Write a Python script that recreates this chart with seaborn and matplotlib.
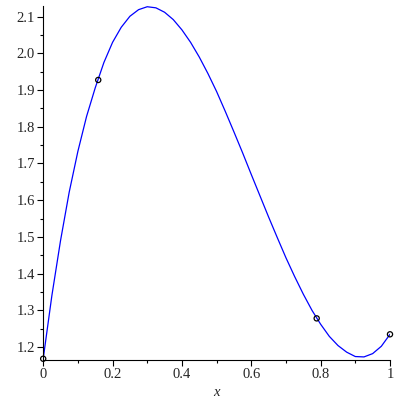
import numpy as np
import pandas as pd
import seaborn as sns
import matplotlib.pyplot as plt
from matplotlib.ticker import MultipleLocator, FormatStrFormatter

# curve values (x step 0.025)
curve_x = [0.0, 0.025, 0.05, 0.075, 0.1, 0.125, 0.15, 0.175, 0.2, 0.225,
           0.25, 0.275, 0.3, 0.325, 0.35, 0.375, 0.4, 0.425, 0.45, 0.475,
           0.5, 0.525, 0.55, 0.575, 0.6, 0.625, 0.65, 0.675, 0.7, 0.725,
           0.75, 0.775, 0.8, 0.825, 0.85, 0.875, 0.9, 0.925, 0.95, 0.975, 1.0]
curve_y = [1.168, 1.340, 1.490, 1.622, 1.733, 1.828, 1.906, 1.975, 2.030, 2.071,
           2.101, 2.119, 2.127, 2.124, 2.112, 2.092, 2.064, 2.030, 1.990, 1.945,
           1.896, 1.842, 1.786, 1.729, 1.670, 1.612, 1.554, 1.498, 1.443, 1.392,
           1.344, 1.300, 1.262, 1.229, 1.204, 1.186, 1.174, 1.173, 1.182, 1.202, 1.2346]

# data points (open circles)
pts_x = [0.0, 0.1587, 0.7886, 1.0]
pts_y = [1.168, 1.9275, 1.278, 1.2346]

curve = pd.DataFrame({"x": curve_x, "y": curve_y})
pts = pd.DataFrame({"x": pts_x, "y": pts_y})

sns.set_style("ticks")
plt.rcParams['font.family'] = ['Liberation Serif', 'DejaVu Serif']
plt.rcParams['font.size'] = 10.5

fig = plt.figure(figsize=(4, 4), dpi=100)
ax = fig.add_axes([0.108, 0.1, 0.867, 0.885])

sns.lineplot(data=curve, x="x", y="y", ax=ax, color=(0, 0, 1), linewidth=0.9)
sns.scatterplot(data=pts, x="x", y="y", ax=ax, marker="o", s=14,
                facecolor="none", edgecolor="black", linewidth=0.9,
                zorder=3, clip_on=False)

ax.set_xlim(0, 1)
ax.set_ylim(1.1646, 2.129)

ax.xaxis.set_major_locator(MultipleLocator(0.2))
ax.xaxis.set_minor_locator(MultipleLocator(0.1))
ax.yaxis.set_major_locator(MultipleLocator(0.1))
ax.yaxis.set_minor_locator(MultipleLocator(0.05))
ax.xaxis.set_major_formatter(lambda v, p: "0" if abs(v) < 1e-9 else ("1" if abs(v - 1) < 1e-9 else "%.1f" % v))
ax.yaxis.set_major_formatter(FormatStrFormatter("%.1f"))

ax.tick_params(which="major", length=4, width=0.8, color="black", pad=2)
ax.tick_params(which="minor", length=2.5, width=0.8, color="black")

sns.despine(ax=ax)
for s in ["left", "bottom"]:
    ax.spines[s].set_linewidth(0.8)
    ax.spines[s].set_color("black")

ax.set_xlabel("x", fontstyle="italic", labelpad=3)
ax.set_ylabel("")

plt.savefig("out.png", dpi=100)
